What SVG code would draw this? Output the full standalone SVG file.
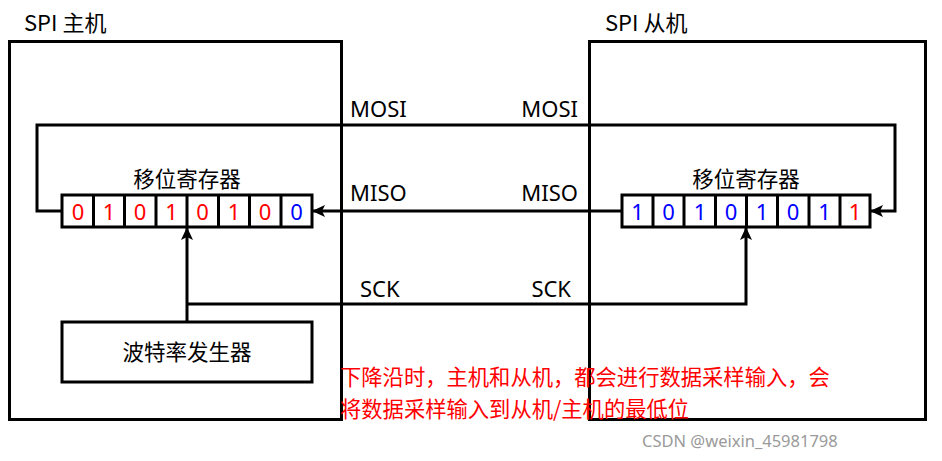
<svg xmlns="http://www.w3.org/2000/svg" width="942" height="461" viewBox="0 0 942 461">
<style>
  .box{fill:none;stroke:#000;stroke-width:3}
  .cell{fill:#fff;stroke:#000;stroke-width:3}
  .wire{fill:none;stroke:#000;stroke-width:3}
  text{font-family:"Noto Sans CJK SC","Noto Sans",sans-serif;fill:#000}
  .t{font-size:21.5px}
  .ti{font-size:22px}
  .lbl{font-family:"Noto Sans","Noto Sans CJK SC",sans-serif;font-size:22px}
  .d{font-family:"Noto Sans","Noto Sans CJK SC",sans-serif;font-size:22px;text-anchor:middle}
  .r{fill:#ff0000}
  .b{fill:#0000ff}
  .note{font-size:21.3px;fill:#ff0000}
  .wm{font-family:"Noto Sans",sans-serif;font-size:16.5px;fill:#9a9a9a}
</style>
<defs>
  <marker id="ah" markerUnits="userSpaceOnUse" markerWidth="14" markerHeight="14" refX="12" refY="7" orient="auto">
    <path d="M0,1 L13,7 L0,13 L3,7 Z" fill="#000"/>
  </marker>
</defs>
<rect width="942" height="461" fill="#fff"/>

<g id="master">
  <rect class="box" x="9.5" y="41.5" width="332" height="378"/>
  <text class="ti" x="24" y="31">SPI 主机</text>
</g>
<g id="slave">
  <rect class="box" x="589.5" y="41.5" width="336" height="378"/>
  <text class="ti" x="605" y="31">SPI 从机</text>
</g>

<g id="master-reg">
  <text class="t" x="187" y="187" text-anchor="middle">移位寄存器</text>
  <rect class="cell" x="62" y="195" width="250" height="32"/>
  <path class="wire" d="M93.5,195V227M124.5,195V227M156,195V227M187,195V227M218.5,195V227M249.5,195V227M281,195V227"/>
  <text class="d r" x="78" y="220">0</text>
  <text class="d r" x="109" y="220">1</text>
  <text class="d r" x="140" y="220">0</text>
  <text class="d r" x="171.5" y="220">1</text>
  <text class="d r" x="202.5" y="220">0</text>
  <text class="d r" x="234" y="220">1</text>
  <text class="d r" x="265" y="220">0</text>
  <text class="d b" x="296.5" y="220">0</text>
</g>

<g id="slave-reg">
  <text class="t" x="746" y="187" text-anchor="middle">移位寄存器</text>
  <rect class="cell" x="622" y="195" width="248" height="32"/>
  <path class="wire" d="M653,195V227M684,195V227M715.5,195V227M746.5,195V227M777.5,195V227M809,195V227M840,195V227"/>
  <text class="d b" x="637.5" y="220">1</text>
  <text class="d b" x="668.5" y="220">0</text>
  <text class="d b" x="700" y="220">1</text>
  <text class="d b" x="731" y="220">0</text>
  <text class="d b" x="762" y="220">1</text>
  <text class="d b" x="793" y="220">0</text>
  <text class="d b" x="824.5" y="220">1</text>
  <text class="d r" x="855" y="220">1</text>
</g>

<g id="baud">
  <rect class="cell" x="62" y="322" width="250" height="60"/>
  <text class="t" x="187" y="360" text-anchor="middle">波特率发生器</text>
</g>

<g id="connectors">
  <path class="wire" d="M62,211H37V125H895V211H871" marker-end="url(#ah)"/>
  <path class="wire" d="M622,211H313" marker-end="url(#ah)"/>
  <path class="wire" d="M187,322V228" marker-end="url(#ah)"/>
  <path class="wire" d="M187,304H746V228" marker-end="url(#ah)"/>
</g>

<g id="labels">
  <text class="lbl" x="350" y="117">MOSI</text>
  <text class="lbl" x="578" y="117" text-anchor="end">MOSI</text>
  <text class="lbl" x="350" y="201">MISO</text>
  <text class="lbl" x="578" y="201" text-anchor="end">MISO</text>
  <text class="lbl" x="360" y="297">SCK</text>
  <text class="lbl" x="571" y="297" text-anchor="end">SCK</text>
</g>

<g id="note">
  <text class="note" x="340" y="385">下降沿时，主机和从机，都会进行数据采样输入，会</text>
  <text class="note" x="340" y="417">将数据采样输入到从机/主机的最低位</text>
</g>
<text class="wm" x="642" y="447">CSDN @weixin_45981798</text>
</svg>
